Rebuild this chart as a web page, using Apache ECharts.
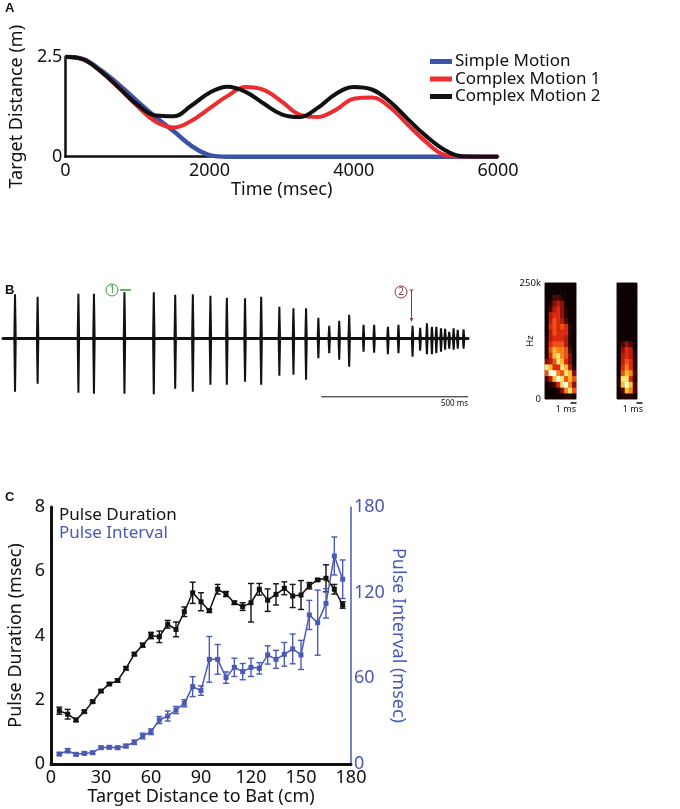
<!DOCTYPE html>
<html>
<head>
<meta charset="utf-8">
<script src="https://cdn.jsdelivr.net/npm/echarts@6/dist/echarts.min.js"></script>
<style>
html, body { margin: 0; padding: 0; background: #fff; }
#main { width: 680px; height: 809px; }
</style>
</head>
<body>
<div id="main"></div>
<script>
var FONT = '"Noto Sans", "DejaVu Sans", sans-serif';
var BLUE = '#4a5ab4';

// ---- panel A : target distance over time
var timeMs = [0, 250, 500, 750, 1000, 1250, 1500, 1750, 2000, 2250, 2500, 2750, 3000,
              3250, 3500, 3750, 4000, 4250, 4500, 4750, 5000, 5250, 5500, 5750, 6000];
var simpleMotion   = [2.5, 2.44, 2.15, 1.79, 1.38, 0.99, 0.64, 0.27, 0.04, 0, 0, 0, 0,
                      0, 0, 0, 0, 0, 0, 0, 0, 0, 0, 0, 0];
var complexMotion1 = [2.5, 2.43, 2.12, 1.71, 1.26, 0.88, 0.73, 0.90, 1.21, 1.52, 1.74, 1.67, 1.38,
                      1.05, 0.99, 1.17, 1.45, 1.48, 1.24, 0.80, 0.37, 0.05, 0, 0, 0];
var complexMotion2 = [2.5, 2.43, 2.12, 1.71, 1.30, 1.03, 1.01, 1.28, 1.60, 1.75, 1.62, 1.33, 1.06,
                      0.99, 1.22, 1.57, 1.74, 1.68, 1.38, 0.94, 0.52, 0.18, 0.01, 0, 0];

// ---- panel B : echolocation pulse train (ms, relative amplitude)
var pulseTime = [34, 111, 250, 303, 407, 507, 580, 640, 700, 756, 818, 873, 935, 983, 1026,
                 1068, 1105, 1139, 1173, 1222, 1258, 1305, 1341, 1389, 1415, 1438, 1455, 1470,
                 1486, 1500, 1514, 1529, 1543, 1563];
var pulseUp   = [0.88, 0.83, 0.89, 0.89, 0.92, 0.92, 0.87, 0.88, 0.85, 0.81, 0.80, 0.83, 0.63, 0.60, 0.60,
                 0.41, 0.25, 0.35, 0.47, 0.27, 0.27, 0.23, 0.27, 0.25, 0.21, 0.30, 0.23, 0.23,
                 0.20, 0.19, 0.13, 0.20, 0.17, 0.18];
var pulseDown = [-1.07, -0.91, -1.09, -1.11, -1.11, -1.12, -1.01, -1.07, -0.93, -0.93, -0.87, -0.93, -0.75, -0.73, -0.83,
                 -0.40, -0.30, -0.43, -0.57, -0.27, -0.29, -0.32, -0.30, -0.37, -0.25, -0.32, -0.32, -0.30,
                 -0.27, -0.23, -0.21, -0.23, -0.21, -0.21];
var scaleBarMs = [1078, 1578];

// ---- spectrograms (rows from 0 Hz up to 250 kHz, intensity 0-10)
var spec1 = [
  [0,0,0,0,0,1,1,0],
  [0,0,0,1,3,7,9,6],
  [0,1,2,5,9,10,7,3],
  [2,4,8,10,9,6,8,6],
  [6,10,10,7,6,9,8,3],
  [9,8,5,5,9,8,4,1],
  [3,4,6,9,8,5,3,0],
  [1,5,8,9,7,6,3,0],
  [1,6,8,7,7,6,2,0],
  [1,5,6,6,6,4,1,0],
  [1,4,5,5,5,4,1,0],
  [0,4,6,5,5,5,1,0],
  [0,5,6,5,6,5,1,0],
  [0,4,6,5,4,2,0,0],
  [0,4,5,5,3,1,0,0],
  [0,2,4,5,3,1,0,0],
  [0,1,3,4,3,0,0,0],
  [0,0,2,2,1,0,0,0],
  [0,0,0,0,0,0,0,0],
  [0,0,0,0,0,0,0,0]
];
var spec2 = [
  [0,1,1,1,0],
  [0,2,8,7,2],
  [1,8,10,8,2],
  [1,9,9,5,1],
  [0,6,8,7,2],
  [0,5,7,5,1],
  [0,4,6,5,1],
  [0,4,5,4,1],
  [0,3,5,4,0],
  [0,2,3,2,0],
  [0,0,0,0,0],[0,0,0,0,0],[0,0,0,0,0],[0,0,0,0,0],[0,0,0,0,0],
  [0,0,0,0,0],[0,0,0,0,0],[0,0,0,0,0],[0,0,0,0,0],[0,0,0,0,0]
];

// ---- panel C : pulse duration / interval vs distance
var distanceCm = [5, 10, 15, 20, 25, 30, 35, 40, 45, 50, 55, 60, 65, 70, 75, 80, 85, 90,
                  95, 100, 105, 110, 115, 120, 125, 130, 135, 140, 145, 150, 155, 160, 165, 170, 175];
var durMean = [1.66, 1.55, 1.37, 1.63, 1.94, 2.27, 2.49, 2.60, 2.98, 3.42, 3.70, 4.00, 3.96, 4.35, 4.19, 4.74, 5.33, 5.05,
               4.77, 5.44, 5.29, 5.02, 4.90, 5.02, 5.44, 5.10, 5.28, 5.47, 5.23, 5.26, 5.55, 5.73, 5.78, 5.44, 4.95];
var durErr  = [0.11, 0.15, 0.05, 0.04, 0.04, 0.04, 0.04, 0.05, 0.05, 0.05, 0.06, 0.10, 0.18, 0.12, 0.23, 0.15, 0.33, 0.28,
               0.05, 0.15, 0.08, 0.05, 0.12, 0.60, 0.18, 0.35, 0.33, 0.20, 0.36, 0.45, 0.10, 0.04, 0.42, 0.15, 0.10];
var intMean = [7.0, 9.3, 6.8, 7.5, 7.9, 11.4, 11.7, 11.4, 12.6, 15.2, 19.6, 22.6, 30.8, 33.6, 37.8, 42.5, 54.2, 51.4,
               73.3, 73.3, 60.5, 67.7, 64.7, 67.7, 67.0, 76.4, 73.3, 76.8, 80.6, 76.4, 104.4, 99.0, 112.5, 145.7, 129.4];
var intErr  = [1, 1.5, 1, 1, 1, 1, 1, 1, 1.2, 1.5, 2, 2, 2.5, 3.5, 2.5, 2.5, 7, 3.3,
               16, 10.4, 4, 6.4, 5.7, 6.4, 4, 6.4, 6.3, 8.3, 10.4, 10.2, 10.2, 22.8, 10.3, 13.3, 13.5];

function pairs(xs, ys) { return xs.map(function (x, i) { return [x, ys[i]]; }); }
function cells(m) {
  var out = [];
  m.forEach(function (row, r) { row.forEach(function (v, c) { out.push([c, r, v]); }); });
  return out;
}
function range(n) { var a = []; for (var i = 0; i < n; i++) a.push(i); return a; }

function pulseItem(params, api) {
  var top = api.coord([api.value(0), api.value(1)]);
  var mid = api.coord([api.value(0), 0]);
  var bot = api.coord([api.value(0), api.value(2)]);
  var x = top[0];
  return {
    type: 'polygon',
    shape: { points: [[x - 1.0, top[1]], [x + 1.0, top[1]], [x + 1.7, mid[1]],
                      [x + 1.0, bot[1]], [x - 1.0, bot[1]], [x - 1.7, mid[1]]] },
    style: { fill: '#111' }
  };
}
function errorItem(color) {
  return function (params, api) {
    var hi = api.coord([api.value(0), api.value(2)]);
    var lo = api.coord([api.value(0), api.value(1)]);
    var w = 3;
    var st = { stroke: color, lineWidth: 1.4 };
    return {
      type: 'group',
      children: [
        { type: 'line', shape: { x1: hi[0], y1: hi[1], x2: lo[0], y2: lo[1] }, style: st },
        { type: 'line', shape: { x1: hi[0] - w, y1: hi[1], x2: hi[0] + w, y2: hi[1] }, style: st },
        { type: 'line', shape: { x1: lo[0] - w, y1: lo[1], x2: lo[0] + w, y2: lo[1] }, style: st }
      ]
    };
  };
}
function errData(xs, m, e) { return xs.map(function (x, i) { return [x, m[i] - e[i], m[i] + e[i]]; }); }

var axisText = { color: '#111', fontSize: 18, fontFamily: FONT };
var GREEN = '#3f8f45', BROWN = '#8a3b3b';

var chart = echarts.init(document.getElementById('main'));
chart.setOption({
  animation: false,
  textStyle: { fontFamily: FONT },
  grid: [
    { left: 51, top: 56.7, width: 447, height: 100 },
    { left: 3, top: 278.3, width: 465, height: 120 },
    { left: 545, top: 283, width: 31, height: 116, show: true, backgroundColor: '#0d0200', borderColor: '#777', borderWidth: 1 },
    { left: 617, top: 283, width: 20, height: 116, show: true, backgroundColor: '#0d0200', borderColor: '#777', borderWidth: 1 },
    { left: 51, top: 507, width: 300, height: 257 }
  ],
  legend: {
    data: ['Simple Motion', 'Complex Motion 1', 'Complex Motion 2'],
    orient: 'vertical', left: 425, top: 48, itemGap: 0.5,
    icon: 'rect', itemWidth: 22, itemHeight: 5,
    textStyle: { fontSize: 17, lineHeight: 17, color: '#111', fontFamily: FONT, padding: [0, 0, 0, -2] },
    selectedMode: false
  },
  xAxis: [
    { gridIndex: 0, type: 'value', min: 0, max: 6000, interval: 2000,
      axisLine: { lineStyle: { color: '#111', width: 2.5 } }, axisTick: { show: false }, splitLine: { show: false },
      axisLabel: Object.assign({ margin: 5, formatter: function (v) { return String(v); } }, axisText),
      name: 'Time (msec)', nameLocation: 'middle', nameGap: 21, nameTextStyle: axisText },
    { gridIndex: 1, type: 'value', min: -7, max: 1578,
      axisLine: { onZero: true, lineStyle: { color: '#111', width: 3 } },
      axisTick: { show: false }, axisLabel: { show: false }, splitLine: { show: false } },
    { gridIndex: 2, type: 'category', data: range(8), show: false },
    { gridIndex: 3, type: 'category', data: range(5), show: false },
    { gridIndex: 4, type: 'value', min: 0, max: 180, interval: 30,
      axisLine: { lineStyle: { color: '#111', width: 3 } }, axisTick: { show: false }, splitLine: { show: false },
      axisLabel: Object.assign({ margin: 5 }, axisText),
      name: 'Target Distance to Bat (cm)', nameLocation: 'middle', nameGap: 24, nameTextStyle: axisText }
  ],
  yAxis: [
    { gridIndex: 0, type: 'value', min: 0, max: 2.5, interval: 2.5,
      axisLine: { show: true, lineStyle: { color: '#111', width: 2.5 } }, axisTick: { show: false }, splitLine: { show: false },
      axisLabel: Object.assign({ margin: 3, formatter: function (v) { return v === 2.5 ? '2.5' : v; } }, axisText),
      name: 'Target Distance (m)', nameLocation: 'middle', nameGap: 27, nameTextStyle: axisText },
    { gridIndex: 1, type: 'value', min: -1.2, max: 1.2, show: false },
    { gridIndex: 2, type: 'category', data: range(20), show: false },
    { gridIndex: 2, type: 'value', min: 0, max: 250, interval: 250, position: 'left',
      axisLine: { show: false }, axisTick: { show: false }, splitLine: { show: false },
      axisLabel: { margin: 4, fontSize: 9.5, color: '#111', fontFamily: FONT,
                   formatter: function (v) { return v === 250 ? '250k' : v; } },
      name: 'Hz', nameLocation: 'middle', nameGap: 10, nameMoveOverlap: false,
      nameTextStyle: { fontSize: 9.5, color: '#111', fontFamily: FONT } },
    { gridIndex: 3, type: 'category', data: range(20), show: false },
    { gridIndex: 4, type: 'value', min: 0, max: 8, interval: 2, position: 'left',
      axisLine: { show: true, lineStyle: { color: '#111', width: 3 } }, axisTick: { show: false }, splitLine: { show: false },
      axisLabel: Object.assign({ margin: 6 }, axisText),
      name: 'Pulse Duration (msec)', nameLocation: 'middle', nameGap: 26, nameTextStyle: axisText },
    { gridIndex: 4, type: 'value', min: 0, max: 180, interval: 60, position: 'right',
      axisLine: { show: true, lineStyle: { color: BLUE, width: 1.5 } }, axisTick: { show: false }, splitLine: { show: false },
      axisLabel: { margin: 3, fontSize: 18, color: BLUE, fontFamily: FONT },
      name: 'Pulse Interval (msec)', nameLocation: 'middle', nameGap: 30, nameRotate: -90,
      nameTextStyle: { fontSize: 18, color: BLUE, fontFamily: FONT } }
  ],
  visualMap: {
    show: false, type: 'continuous', min: 0, max: 10, seriesIndex: [4, 5],
    inRange: { color: ['#0d0200', '#3a0500', '#a0140a', '#e0280f', '#f4701a', '#ffd22e', '#fffde0'] }
  },
  series: [
    { name: 'Simple Motion', type: 'line', xAxisIndex: 0, yAxisIndex: 0, data: pairs(timeMs, simpleMotion),
      smooth: 0.4, symbol: 'none', color: '#3c52a6', lineStyle: { width: 4.5, color: '#3c52a6' } },
    { name: 'Complex Motion 1', type: 'line', xAxisIndex: 0, yAxisIndex: 0, data: pairs(timeMs, complexMotion1),
      smooth: 0.4, symbol: 'none', color: '#ee2b2e', lineStyle: { width: 4, color: '#ee2b2e' } },
    { name: 'Complex Motion 2', type: 'line', xAxisIndex: 0, yAxisIndex: 0, data: pairs(timeMs, complexMotion2),
      smooth: 0.4, symbol: 'none', color: '#111', lineStyle: { width: 4, color: '#111' } },
    { type: 'custom', xAxisIndex: 1, yAxisIndex: 1, renderItem: pulseItem,
      encode: { x: 0, y: [1, 2] },
      data: pulseTime.map(function (t, i) { return [t, pulseUp[i], pulseDown[i]]; }) },
    { type: 'heatmap', xAxisIndex: 2, yAxisIndex: 2, data: cells(spec1), itemStyle: { borderWidth: 0 } },
    { type: 'heatmap', xAxisIndex: 3, yAxisIndex: 4, data: cells(spec2), itemStyle: { borderWidth: 0 } },
    { type: 'line', xAxisIndex: 1, yAxisIndex: 1, symbol: 'none',
      data: [[scaleBarMs[0], -1.17], [scaleBarMs[1], -1.17]], lineStyle: { width: 1, color: '#111' } },
    { type: 'custom', xAxisIndex: 4, yAxisIndex: 5, renderItem: errorItem('#111'),
      encode: { x: 0, y: [1, 2] }, data: errData(distanceCm, durMean, durErr), z: 3 },
    { type: 'line', xAxisIndex: 4, yAxisIndex: 5, data: pairs(distanceCm, durMean), z: 3,
      symbol: 'rect', symbolSize: 5, itemStyle: { color: '#111' }, lineStyle: { width: 1.5, color: '#111' } },
    { type: 'custom', xAxisIndex: 4, yAxisIndex: 6, renderItem: errorItem(BLUE),
      encode: { x: 0, y: [1, 2] }, data: errData(distanceCm, intMean, intErr), z: 4 },
    { type: 'line', xAxisIndex: 4, yAxisIndex: 6, data: pairs(distanceCm, intMean), z: 4,
      symbol: 'rect', symbolSize: 5, itemStyle: { color: BLUE }, lineStyle: { width: 1.5, color: BLUE } }
  ],
  graphic: [
    { type: 'text', left: 5, top: 2, style: { text: 'A', fontSize: 13, fontWeight: 'bold', fontFamily: 'Liberation Sans', fill: '#111' } },
    { type: 'text', left: 5, top: 284, style: { text: 'B', fontSize: 13, fontWeight: 'bold', fontFamily: 'Liberation Sans', fill: '#111' } },
    { type: 'text', left: 5, top: 491, style: { text: 'C', fontSize: 13, fontWeight: 'bold', fontFamily: 'Liberation Sans', fill: '#111' } },
    { type: 'text', x: 59, y: 515, style: { text: 'Pulse Duration', fontSize: 17, fontFamily: FONT, fill: '#111', verticalAlign: 'middle' } },
    { type: 'text', x: 59, y: 533, style: { text: 'Pulse Interval', fontSize: 17, fontFamily: FONT, fill: BLUE, verticalAlign: 'middle' } },
    // pulse annotations
    { type: 'circle', shape: { cx: 112, cy: 290, r: 6 }, style: { fill: 'none', stroke: GREEN, lineWidth: 1 } },
    { type: 'text', x: 112, y: 290.5, style: { text: '1', fontSize: 10, fontFamily: FONT, fill: GREEN, align: 'center', verticalAlign: 'middle' } },
    { type: 'line', shape: { x1: 120, y1: 290, x2: 131, y2: 290 }, style: { stroke: GREEN, lineWidth: 1.5 } },
    { type: 'circle', shape: { cx: 401, cy: 292, r: 6 }, style: { fill: 'none', stroke: BROWN, lineWidth: 1 } },
    { type: 'text', x: 401, y: 292.5, style: { text: '2', fontSize: 10, fontFamily: FONT, fill: BROWN, align: 'center', verticalAlign: 'middle' } },
    { type: 'line', shape: { x1: 411.5, y1: 290, x2: 411.5, y2: 320 }, style: { stroke: BROWN, lineWidth: 1 } },
    { type: 'line', shape: { x1: 409.5, y1: 290, x2: 413.5, y2: 290 }, style: { stroke: BROWN, lineWidth: 1 } },
    { type: 'polygon', shape: { points: [[409.7, 318], [413.3, 318], [411.5, 322]] }, style: { fill: BROWN } },
    { type: 'text', x: 468, y: 404, style: { text: '500 ms', fontSize: 8, fontFamily: FONT, fill: '#111', align: 'right', verticalAlign: 'middle' } },
    // spectrogram labels
    { type: 'circle', shape: { cx: 559, cy: 294, r: 6 }, style: { fill: '#3a8a40', stroke: '#fff', lineWidth: 1 } },
    { type: 'text', x: 559, y: 294.5, style: { text: '1', fontSize: 10, fontWeight: 'bold', fontFamily: FONT, fill: '#fff', align: 'center', verticalAlign: 'middle' } },
    { type: 'circle', shape: { cx: 627, cy: 294, r: 6 }, style: { fill: '#7a2a2a', stroke: '#fff', lineWidth: 1 } },
    { type: 'text', x: 627, y: 294.5, style: { text: '2', fontSize: 10, fontWeight: 'bold', fontFamily: FONT, fill: '#fff', align: 'center', verticalAlign: 'middle' } },
    { type: 'line', shape: { x1: 570.5, y1: 403, x2: 576.5, y2: 403 }, style: { stroke: '#111', lineWidth: 1.5 } },
    { type: 'text', x: 576, y: 409, style: { text: '1 ms', fontSize: 9, fontFamily: FONT, fill: '#111', align: 'right', verticalAlign: 'middle' } },
    { type: 'line', shape: { x1: 636.5, y1: 403, x2: 642.5, y2: 403 }, style: { stroke: '#111', lineWidth: 1.5 } },
    { type: 'text', x: 643, y: 409, style: { text: '1 ms', fontSize: 9, fontFamily: FONT, fill: '#111', align: 'right', verticalAlign: 'middle' } }
  ]
});
</script>
</body>
</html>
